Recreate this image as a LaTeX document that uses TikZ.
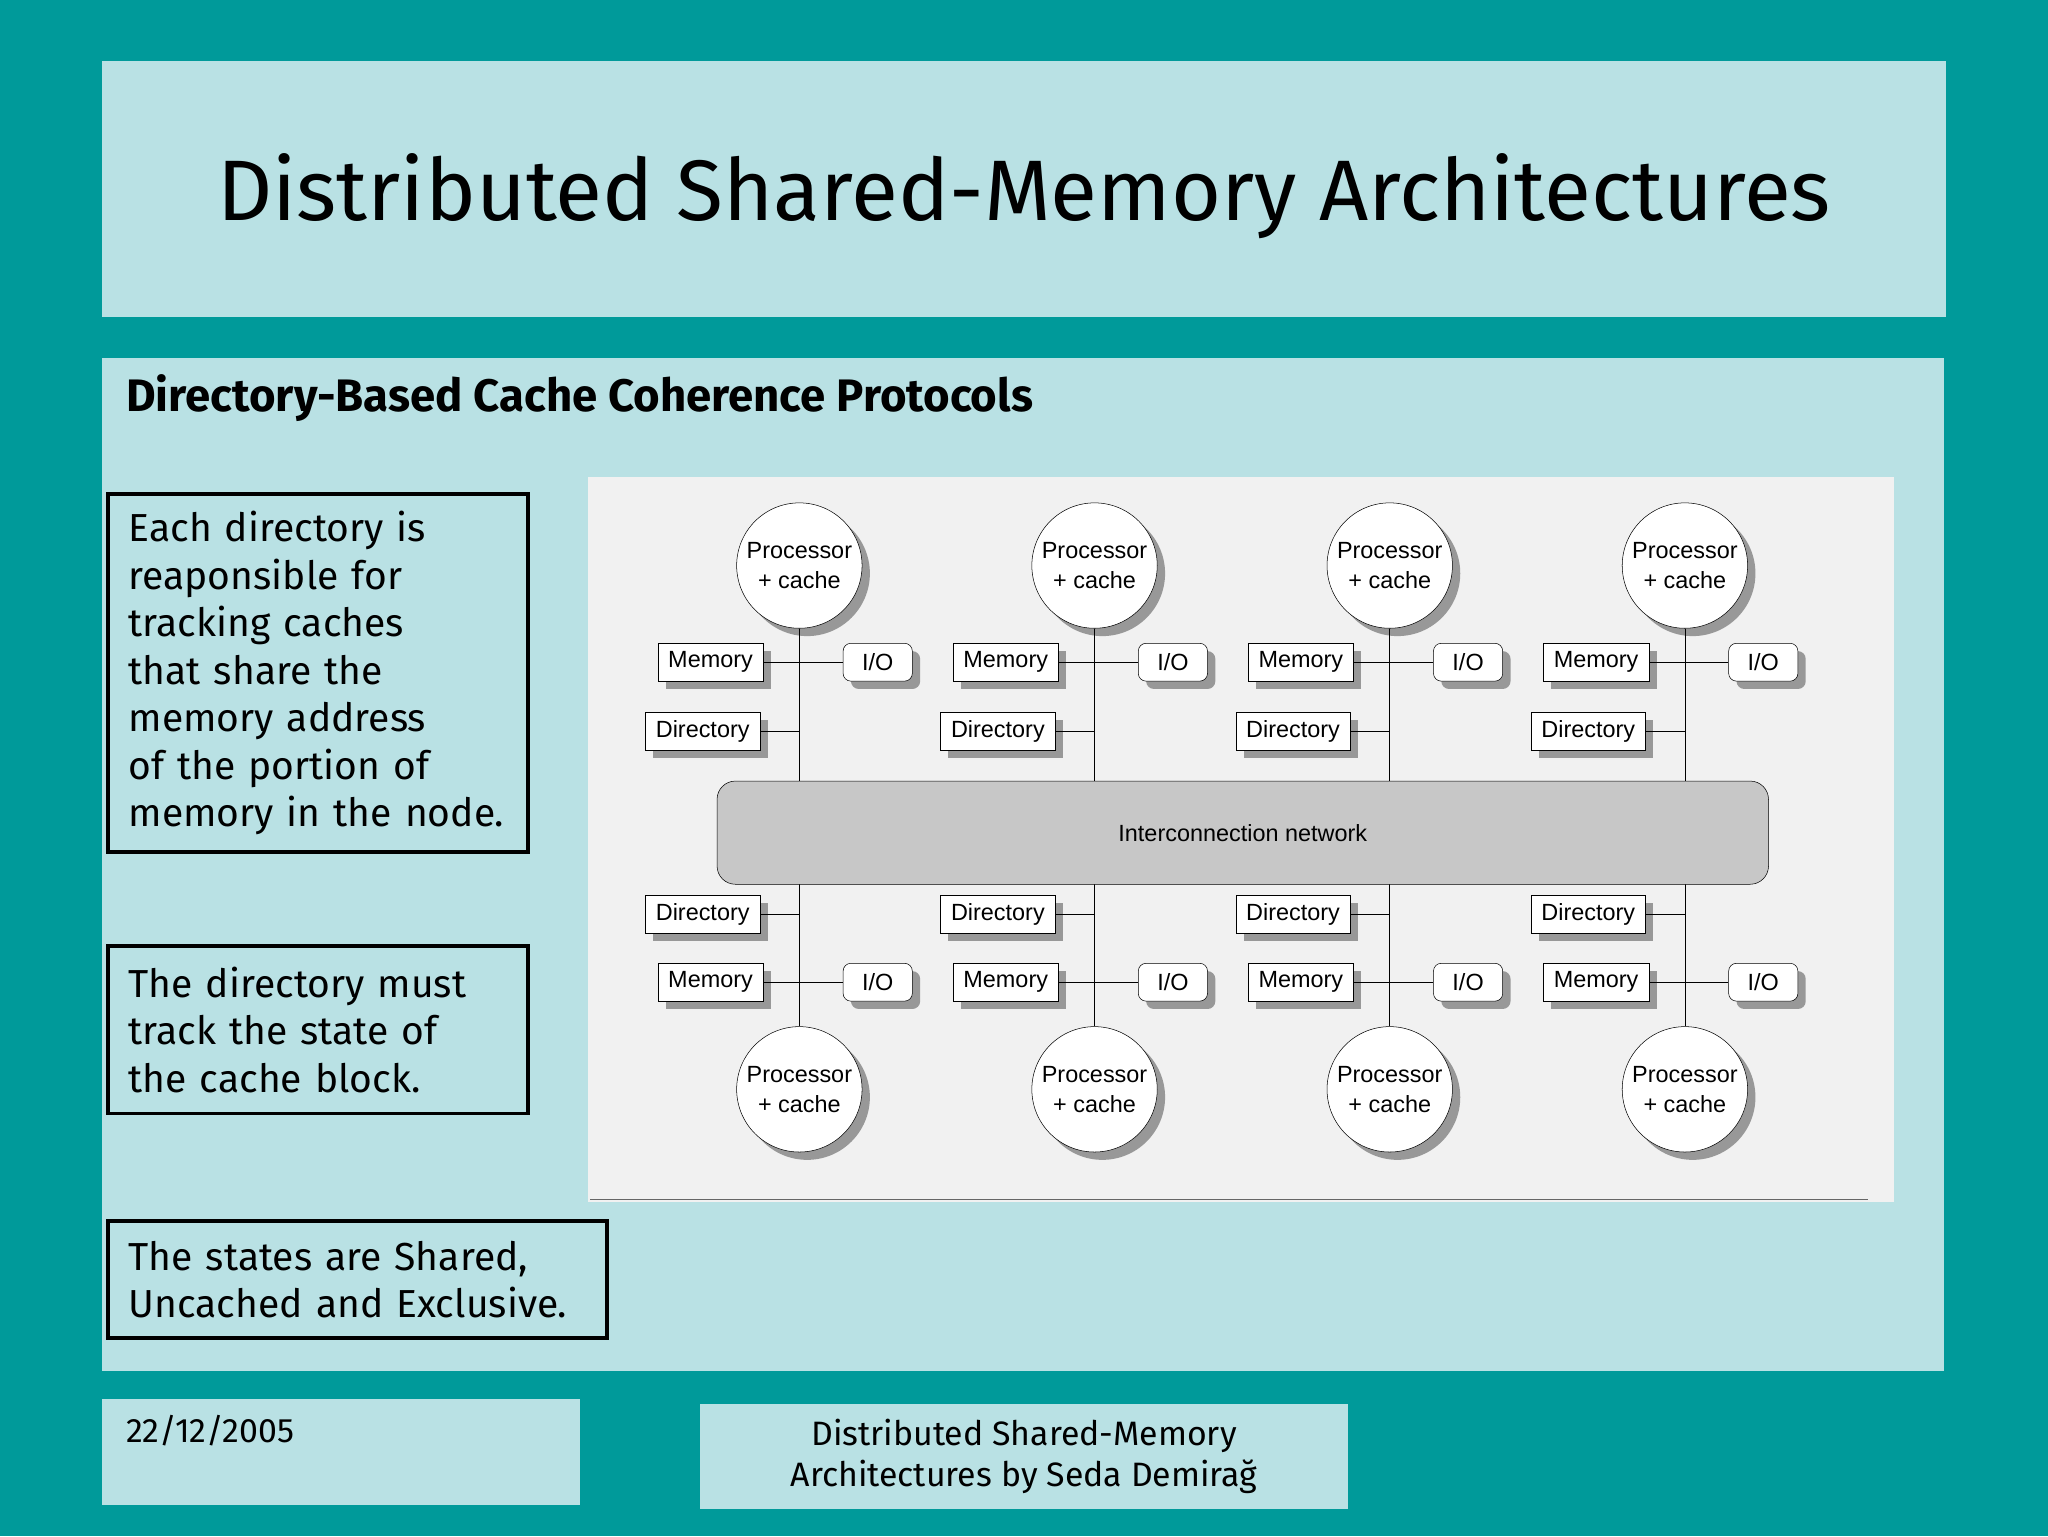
\documentclass[tikz,border=0pt]{standalone}
\usepackage{fontspec}
\setmainfont{Fira Sans}
\newfontfamily\figfont{Liberation Sans}
\usetikzlibrary{shadows,positioning}
\definecolor{teal0}{HTML}{009A9A}
\definecolor{pale}{HTML}{B9E1E4}
\definecolor{paper}{HTML}{F1F1F1}
\tikzset{
  panel/.style={fill=pale,draw=none},
  note/.style={draw,line width=3bp,anchor=north west,align=left,inner xsep=16bp,inner ysep=8bp,
    font=\fontsize{30}{36.5}\selectfont},
  part/.style={draw,fill=white,minimum height=29bp,inner xsep=8bp,font=\figfont\fontsize{18}{20}\selectfont,drop shadow={shadow xshift=6bp,shadow yshift=-6bp,fill=black!75}},
  io/.style={part,rounded corners=6bp,minimum width=53bp},
  proc/.style={draw,fill=white,circle,minimum size=96bp,inner sep=0pt,align=center,font=\figfont\fontsize{18}{23}\selectfont,drop shadow={shadow xshift=6bp,shadow yshift=-6bp,fill=black!75}},
}
\begin{document}
\begin{tikzpicture}[x=1bp,y=-1bp]
\useasboundingbox (0,0) rectangle (1568,1176);
\fill[teal0] (0,0) rectangle (1568,1176);

% slide panels
\fill[panel] (78,47) rectangle (1490,243);
\fill[panel] (78,274) rectangle (1488,1050);
\fill[panel] (78,1071) rectangle (444,1152);
\fill[panel] (536,1075) rectangle (1032,1155);
\node (title) at (784,150) {\fontsize{66}{70}\selectfont Distributed Shared-Memory Architectures};
\node[anchor=west] (sub) at (93,305) {\fontsize{35}{38}\selectfont\bfseries Directory-Based Cache Coherence Protocols};

% notes
\node[note,minimum width=320bp,minimum height=274bp,text width=290bp,anchor=north west] (n1) at (81,377)
  {Each directory is\\reaponsible for\\tracking caches\\that share the\\memory address\\of the portion of\\memory in the node.};
\node[note,minimum width=320bp,minimum height=128bp,text width=290bp] (n2) at (81,723)
  {The directory must\\track the state of\\the cache block.};
\node[note,minimum width=379bp,minimum height=90bp,text width=350bp] (n3) at (81,933)
  {The states are Shared,\\Uncached and Exclusive.};

% footer
\node[anchor=west] (date) at (93,1095) {\fontsize{26}{30}\selectfont 22/12/2005};
\node[align=center,font=\fontsize{26}{31}\selectfont] (foot) at (784,1115) {Distributed Shared-Memory\\Architectures by Seda Demirağ};

% figure
\fill[paper] (450,365) rectangle (1450,920);

\foreach \i/\c in {1/612,2/838,3/1064,4/1290}{
  % upper node
  \node[proc] (P\i) at (\c,433) {Processor\\+ cache};
  \node[part] (M\i) at (\c-68,507) {Memory};
  \node[part] (D\i) at (\c-74,560) {Directory};
  \node[io] (I\i) at (\c+60,507) {I/O};
  \coordinate (a\i) at (\c,507);
  \coordinate (b\i) at (\c,560);
  \draw (P\i) -- (\c,598);
  \draw (M\i) -- (a\i) -- (I\i);
  \draw (D\i) -- (b\i);
  % lower node
  \node[proc] (Q\i) at (\c,834) {Processor\\+ cache};
  \node[part] (L\i) at (\c-68,752) {Memory};
  \node[part] (E\i) at (\c-74,700) {Directory};
  \node[io] (J\i) at (\c+60,752) {I/O};
  \coordinate (c\i) at (\c,752);
  \coordinate (d\i) at (\c,700);
  \draw (\c,677) -- (Q\i);
  \draw (L\i) -- (c\i) -- (J\i);
  \draw (E\i) -- (d\i);
}
\node[draw,fill=black!22,rounded corners=14bp,minimum width=805bp,minimum height=79bp,font=\figfont\fontsize{18}{20}\selectfont] (net) at (951.5,637.5) {Interconnection network};
\draw[black!60] (452,918) -- (1430,918);
\end{tikzpicture}
\end{document}
